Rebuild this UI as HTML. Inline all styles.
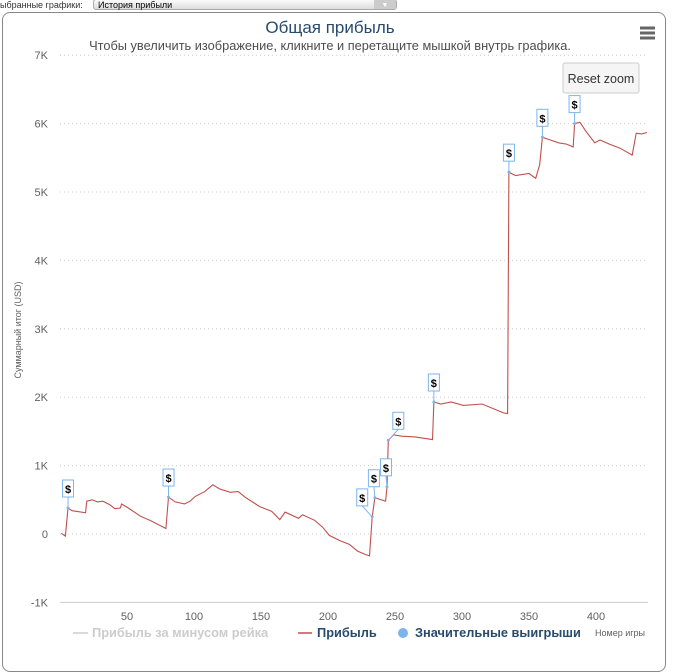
<!DOCTYPE html>
<html><head><meta charset="utf-8">
<style>
body{margin:0;width:681px;height:649px;background:#fff;font-family:"Liberation Sans",sans-serif;overflow:hidden;position:relative}
#topbar{position:absolute;left:0;top:0;height:11px;font-size:9px;color:#333}
#sel{position:absolute;left:93px;top:-1px;width:304px;height:11px;border:1px solid #aaa;border-radius:3px;background:linear-gradient(#fafafa,#ddd);font-size:9px;line-height:11px;padding-left:4px;box-sizing:border-box}
#card{position:absolute;left:2px;top:12px;width:664px;height:660px;border:1px solid #888;border-radius:8px;box-sizing:border-box}
</style></head><body>
<div id="topbar">ыбранные графики:</div>
<div id="sel">История прибыли<span style="position:absolute;right:0;top:0;width:22px;height:9px;background:#ccc;color:#fff;font-size:7px;text-align:center">▼</span></div>
<div id="card"></div>
<svg id="chart" width="681" height="649" style="position:absolute;left:0;top:0"></svg>
<script>
const games=[1,4,6,9,19,20,24,28,32,37,41,45,46,51,60,67,79,81,86,93,97,101,108,114,119,127,133,138,149,158,164,168,178,181,190,196,201,209,216,222,228,231,233,235,243,244,245,249,255,265,278,279,284,292,301,315,331,334,335,340,350,355,358,360,366,372,378,383,384,388,392,399,403,410,418,427,430,434,438];
const profits=[10,-30,380,340,310,480,500,470,480,430,370,380,440,380,260,200,80,540,470,440,480,550,620,720,660,610,620,540,400,330,210,320,230,280,200,100,-20,-100,-150,-250,-300,-320,250,530,480,690,1370,1450,1430,1420,1380,1930,1900,1930,1880,1900,1770,1760,5290,5240,5270,5200,5400,5800,5760,5720,5700,5660,6000,6020,5900,5720,5760,5700,5640,5540,5860,5850,5870];
const flagGames=[6,81,233,235,244,245,279,335,360,384];
const flagValues=[380,540,250,530,690,1370,1930,5290,5800,6000];
const yTicks=[-1000,0,1000,2000,3000,4000,5000,6000,7000];
const yTickLabels=["-1K","0","1K","2K","3K","4K","5K","6K","7K"];
const xTicks=[50,100,150,200,250,300,350,400];
const flagShift=[0,0,-10,-1,-1,10,0,0,0,0];
const NS="http://www.w3.org/2000/svg";
const svg=document.getElementById('chart');
const X=g=>60+(g)*1.34;
const Y=v=>534-v*0.0684;
function el(t,a,txt){const e=document.createElementNS(NS,t);for(const k in a)e.setAttribute(k,a[k]);if(txt!=null)e.textContent=txt;svg.appendChild(e);return e;}
let e;
e=el('text',{x:330,y:33,'text-anchor':'middle','font-size':17,fill:'#274b6d'},'Общая прибыль');

e=el('text',{x:330,y:50,'text-anchor':'middle','font-size':12.8,fill:'#4d4d4d'},'Чтобы увеличить изображение, кликните и перетащите мышкой внутрь графика.');

const mg=el('g',{});
[28,33,38].forEach(y=>{const r=document.createElementNS(NS,'rect');r.setAttribute('x',640);r.setAttribute('y',y-1.5);r.setAttribute('width',15);r.setAttribute('height',3);r.setAttribute('fill','#666');mg.appendChild(r);});
yTicks.forEach((v,i)=>{
  if(v>-1000){const l=el('line',{x1:60,x2:648,y1:Y(v),y2:Y(v),stroke:'#ccc','stroke-dasharray':'1,3'});
  }
  const t=el('text',{x:48,y:Y(v)+4,'text-anchor':'end','font-size':11,fill:'#606060'},yTickLabels[i]);
  
});
e=el('line',{x1:60,x2:648,y1:Y(-1000),y2:Y(-1000),stroke:'#ccc'});

xTicks.forEach(g=>{const t=el('text',{x:X(g),y:620,'text-anchor':'middle','font-size':11,fill:'#606060'},String(g));
});
e=el('text',{x:21,y:330,'text-anchor':'middle','font-size':9,fill:'#606060',transform:'rotate(-90 21 330)'},'Суммарный итог (USD)');

const pts=games.map((g,i)=>X(g).toFixed(1)+','+Y(profits[i]).toFixed(1)).join(' ');
e=el('polyline',{points:pts,fill:'none',stroke:'#c0504d','stroke-width':1.1});

flagGames.forEach((g,i)=>{
  const x=X(g),y=Y(flagValues[i]),bx=x+flagShift[i];
  const f=el('g',{});
  const mk=(t,a,txt)=>{const n=document.createElementNS(NS,t);for(const k in a)n.setAttribute(k,a[k]);if(txt)n.textContent=txt;f.appendChild(n);};
  mk('line',{x1:x,x2:bx,y1:y,y2:y-11,stroke:'#7cb5ec'});
  mk('circle',{cx:x,cy:y,r:1.5,fill:'#7cb5ec'});
  mk('rect',{x:bx-5.5,y:y-28,width:11,height:17,fill:'#fff',stroke:'#7cb5ec'});
  mk('text',{x:bx,y:y-15,'text-anchor':'middle','font-size':11,'font-weight':'bold',fill:'#000'},'$');
});
const rb=el('g',{});
{const r=document.createElementNS(NS,'rect');[['x',563],['y',63],['width',76],['height',30],['rx',2],['fill','#f5f5f5'],['stroke','#ccc']].forEach(a=>r.setAttribute(a[0],a[1]));rb.appendChild(r);
const t=document.createElementNS(NS,'text');[['x',601],['y',83],['text-anchor','middle'],['font-size',12.5],['fill','#333']].forEach(a=>t.setAttribute(a[0],a[1]));t.textContent='Reset zoom';rb.appendChild(t);}
const lg=[[{x1:73,x2:88},'#ccc','Прибыль за минусом рейка',92,'#ccc','legend-net-profit'],[{x1:298,x2:312},'#c0504d','Прибыль',317,'#274b6d','legend-profit']];
lg.forEach(d=>{const g=el('g',{});
const l=document.createElementNS(NS,'line');l.setAttribute('x1',d[0].x1);l.setAttribute('x2',d[0].x2);l.setAttribute('y1',633);l.setAttribute('y2',633);l.setAttribute('stroke',d[1]);l.setAttribute('stroke-width',1.5);g.appendChild(l);
const t=document.createElementNS(NS,'text');t.setAttribute('x',d[3]);t.setAttribute('y',637);t.setAttribute('font-size',12.8);t.setAttribute('font-weight','bold');t.setAttribute('fill',d[4]);t.textContent=d[2];g.appendChild(t);});
const g3=el('g',{});
{const c=document.createElementNS(NS,'circle');c.setAttribute('cx',403);c.setAttribute('cy',633);c.setAttribute('r',5);c.setAttribute('fill','#7cb5ec');g3.appendChild(c);
const t=document.createElementNS(NS,'text');t.setAttribute('x',415);t.setAttribute('y',637);t.setAttribute('font-size',12.8);t.setAttribute('font-weight','bold');t.setAttribute('fill','#274b6d');t.textContent='Значительные выигрыши';g3.appendChild(t);}
e=el('text',{x:595,y:636,'font-size':9,fill:'#606060'},'Номер игры');

</script>
</body></html>
